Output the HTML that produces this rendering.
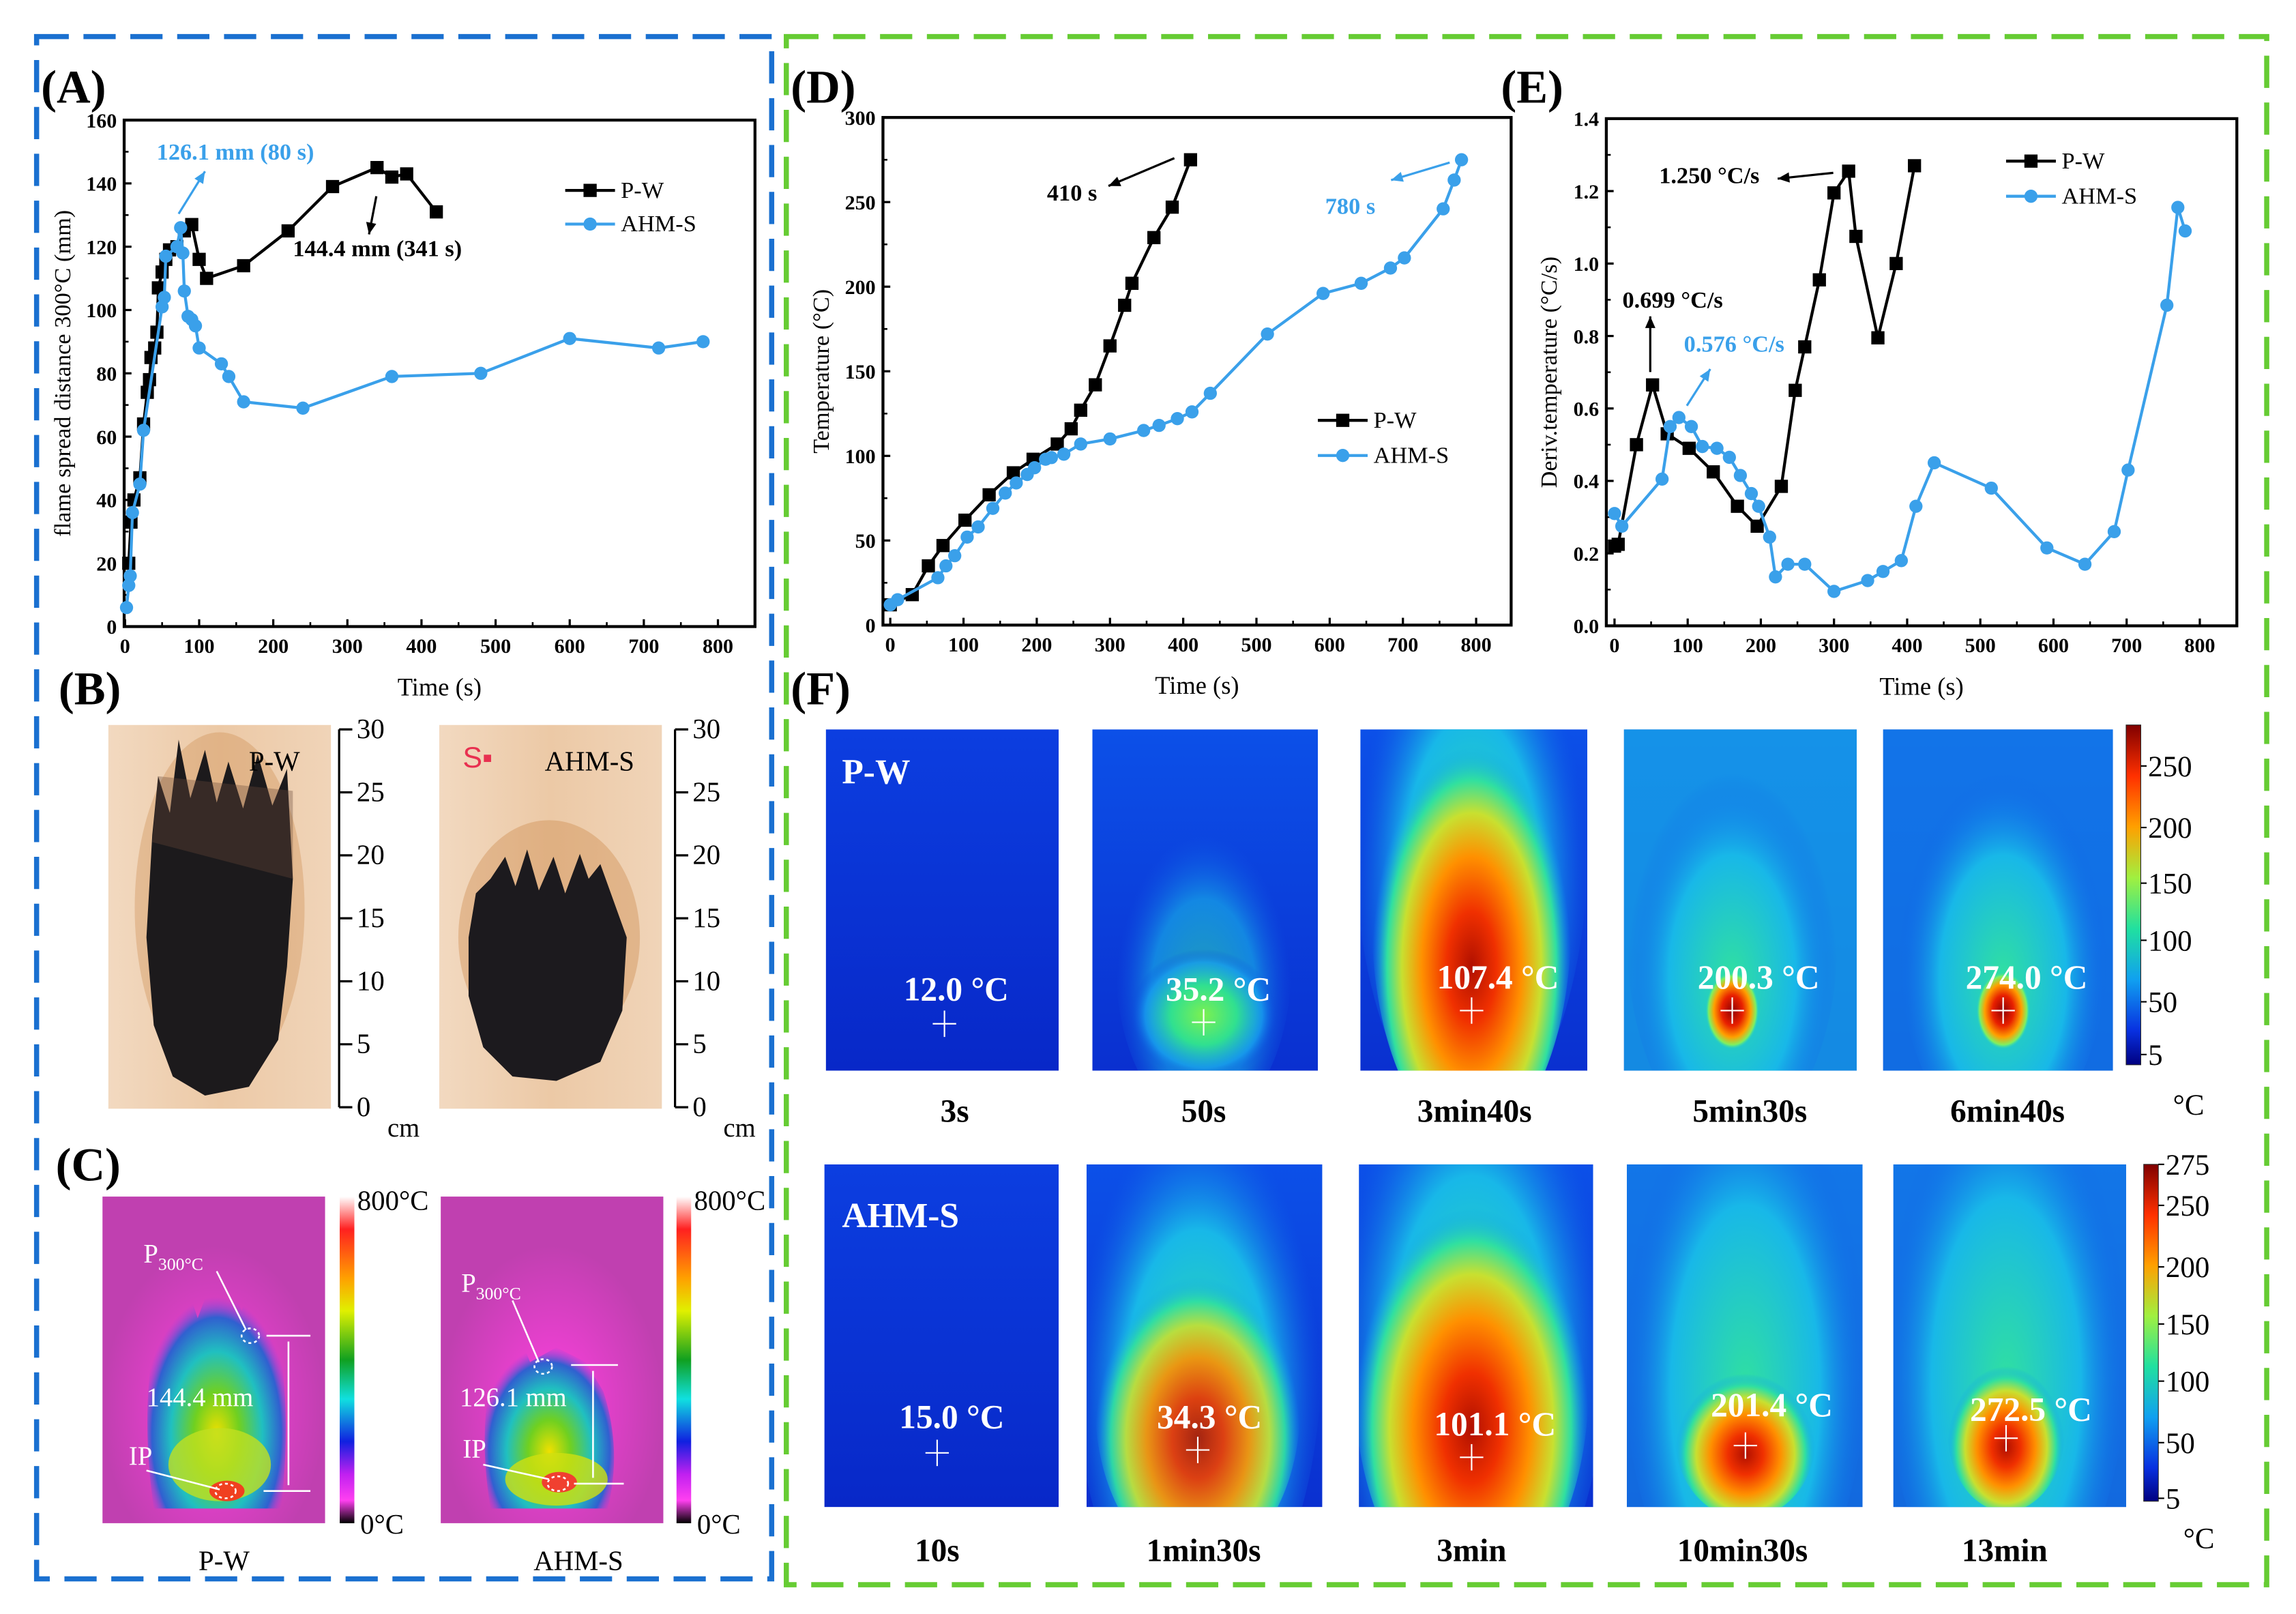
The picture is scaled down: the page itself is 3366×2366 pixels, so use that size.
<!DOCTYPE html>
<html><head><meta charset="utf-8">
<style>
html,body{margin:0;padding:0;background:#fff;}
svg{display:block;font-family:"Liberation Serif",serif;}
</style></head>
<body>
<svg id="fig" width="3366" height="2366" viewBox="0 0 1568 1102" preserveAspectRatio="none" xmlns="http://www.w3.org/2000/svg">
<defs>
 <radialGradient id="gGreen" cx="50%" cy="50%" r="50%"><stop offset="0" stop-color="#7cf050"/><stop offset="0.45" stop-color="#30e090"/><stop offset="0.8" stop-color="#18a0f0" stop-opacity="0.7"/><stop offset="1" stop-color="#0a40e0" stop-opacity="0"/></radialGradient>
 <radialGradient id="gHot" cx="50%" cy="60%" r="50%"><stop offset="0" stop-color="#b01000"/><stop offset="0.25" stop-color="#f03000"/><stop offset="0.5" stop-color="#ff9000"/><stop offset="0.7" stop-color="#c8e030"/><stop offset="0.85" stop-color="#30e0a0"/><stop offset="1" stop-color="#10a0f0" stop-opacity="0"/></radialGradient>
 <radialGradient id="gSpot" cx="50%" cy="50%" r="50%"><stop offset="0" stop-color="#900000"/><stop offset="0.4" stop-color="#e82000"/><stop offset="0.7" stop-color="#ffa000"/><stop offset="0.9" stop-color="#80f060"/><stop offset="1" stop-color="#40e0a0" stop-opacity="0"/></radialGradient>
 <radialGradient id="gCyan" cx="50%" cy="60%" r="50%"><stop offset="0" stop-color="#30e0a0"/><stop offset="0.6" stop-color="#18b8e8"/><stop offset="1" stop-color="#1060e8" stop-opacity="0"/></radialGradient>
 <linearGradient id="gBlue" x1="0" y1="0" x2="0" y2="1"><stop offset="0" stop-color="#0c3ee0"/><stop offset="1" stop-color="#0828c8"/></linearGradient>
 <linearGradient id="gBlueL" x1="0" y1="0" x2="0" y2="1"><stop offset="0" stop-color="#0c50e8"/><stop offset="1" stop-color="#0a30d0"/></linearGradient>
 <linearGradient id="cbF" x1="0" y1="0" x2="0" y2="1"><stop offset="0" stop-color="#800000"/><stop offset="0.15" stop-color="#ff3000"/><stop offset="0.3" stop-color="#ffa000"/><stop offset="0.45" stop-color="#a0f040"/><stop offset="0.6" stop-color="#20e0a0"/><stop offset="0.75" stop-color="#10a0f0"/><stop offset="0.9" stop-color="#0830e0"/><stop offset="1" stop-color="#000080"/></linearGradient>
 <linearGradient id="cbC" x1="0" y1="0" x2="0" y2="1"><stop offset="0" stop-color="#fff"/><stop offset="0.1" stop-color="#ff2020"/><stop offset="0.25" stop-color="#ffa000"/><stop offset="0.35" stop-color="#e0f000"/><stop offset="0.5" stop-color="#10a020"/><stop offset="0.62" stop-color="#10e0e0"/><stop offset="0.75" stop-color="#1020e0"/><stop offset="0.85" stop-color="#c020f0"/><stop offset="0.93" stop-color="#ff40f0"/><stop offset="1" stop-color="#000"/></linearGradient>
 <radialGradient id="gMag" cx="50%" cy="65%" r="50%"><stop offset="0" stop-color="#ff40e0"/><stop offset="1" stop-color="#c040b0"/></radialGradient>
 <radialGradient id="gFlameC" cx="50%" cy="70%" r="55%"><stop offset="0" stop-color="#f0e000"/><stop offset="0.3" stop-color="#70d020"/><stop offset="0.6" stop-color="#20c0c0"/><stop offset="0.85" stop-color="#3060d0"/><stop offset="1" stop-color="#a040e0" stop-opacity="0"/></radialGradient>
 <linearGradient id="wood" x1="0" y1="0" x2="1" y2="0"><stop offset="0" stop-color="#f2d9c0"/><stop offset="0.5" stop-color="#ecc9a6"/><stop offset="1" stop-color="#f0d4b8"/></linearGradient>
</defs>

<rect x="25" y="25" width="502" height="1053" fill="none" stroke="#1a70d0" stroke-width="3.5" stroke-dasharray="22,10"/>
<rect x="537" y="25" width="1011" height="1057" fill="none" stroke="#66cc33" stroke-width="3.5" stroke-dasharray="22,10"/>

<g font-weight="bold" font-size="32" fill="#000">
 <text x="28" y="70">(A)</text>
 <text x="40" y="481">(B)</text>
 <text x="38" y="806">(C)</text>
 <text x="540" y="70">(D)</text>
 <text x="1025" y="70">(E)</text>
 <text x="540" y="481">(F)</text>
</g>

<g id="chartA"></g>
<g id="chartD"></g>
<g id="chartE"></g>

<g>
 <rect x="74" y="495" width="152" height="262" fill="url(#wood)"/>
 <ellipse cx="150" cy="620" rx="58" ry="120" fill="#c88040" opacity="0.3"/>
 <path d="M104,570 L108,530 L116,555 L122,505 L130,545 L140,512 L148,548 L156,520 L166,552 L176,515 L186,550 L196,525 L200,600 L196,660 L190,710 L170,742 L140,748 L118,735 L105,700 L100,640 Z" fill="#1c1a1c"/>
 <path d="M104,575 L108,530 L200,540 L200,600 Z" fill="#6a4a3a" opacity="0.35"/>
 <text x="170" y="526" font-size="19">P-W</text>
 <rect x="300" y="495" width="152" height="262" fill="url(#wood)"/>
 <ellipse cx="375" cy="640" rx="62" ry="80" fill="#c88040" opacity="0.35"/>
 <path d="M320,640 L325,610 L335,600 L345,585 L352,605 L360,580 L368,608 L378,585 L386,610 L396,583 L402,600 L410,590 L428,640 L425,690 L410,725 L380,738 L350,735 L330,715 L320,680 Z" fill="#1c1a1e"/>
 <text x="316" y="524" font-size="20" fill="#e83050" font-family="Liberation Sans,sans-serif">S▪</text>
 <text x="372" y="526" font-size="19">AHM-S</text>
 <g id="scales" stroke="#000" stroke-width="1.5" fill="none"></g>
</g>

<g font-size="18" fill="#fff">
 <rect x="70" y="817" width="152" height="223" fill="url(#gMag)"/>
 <path d="M105,1030 Q95,960 108,900 L125,870 L135,900 L150,860 L165,895 L175,870 L188,900 Q200,960 192,1030 Z" fill="url(#gFlameC)"/>
 <ellipse cx="150" cy="1000" rx="35" ry="25" fill="#c0e020" opacity="0.8"/>
 <ellipse cx="155" cy="1018" rx="12" ry="7" fill="#f04020"/>
 <rect x="301" y="817" width="152" height="223" fill="url(#gMag)"/>
 <path d="M335,1030 Q325,970 340,920 L350,900 L362,930 L380,920 L400,930 L412,950 Q425,990 415,1030 Z" fill="url(#gFlameC)"/>
 <ellipse cx="380" cy="1010" rx="35" ry="18" fill="#d0e010" opacity="0.8"/>
 <ellipse cx="382" cy="1012" rx="12" ry="7" fill="#f04030"/>
 <rect x="232" y="817" width="10" height="223" fill="url(#cbC)"/>
 <rect x="462" y="817" width="10" height="223" fill="url(#cbC)"/>
 <g fill="#000" font-size="19">
  <text x="244" y="826">800°C</text><text x="246" y="1047">0°C</text>
  <text x="474" y="826">800°C</text><text x="476" y="1047">0°C</text>
  <text x="153" y="1072" text-anchor="middle">P-W</text>
  <text x="395" y="1072" text-anchor="middle">AHM-S</text>
 </g>
 <text x="98" y="862">P<tspan font-size="12" dy="5">300°C</tspan></text>
 <text x="315" y="882">P<tspan font-size="12" dy="5">300°C</tspan></text>
 <text x="100" y="960">144.4 mm</text>
 <text x="314" y="960">126.1 mm</text>
 <text x="88" y="1000">IP</text>
 <text x="316" y="995">IP</text>
 <g stroke="#fff" stroke-width="1.2" fill="none">
  <line x1="148" y1="868" x2="168" y2="908"/><ellipse cx="171" cy="912" rx="6" ry="5" stroke-dasharray="2,2"/>
  <line x1="182" y1="912" x2="212" y2="912"/><line x1="180" y1="1018" x2="212" y2="1018"/><line x1="197" y1="916" x2="197" y2="1014"/>
  <line x1="100" y1="1004" x2="150" y2="1017"/><ellipse cx="154" cy="1018" rx="7" ry="5" stroke-dasharray="2,2"/>
  <line x1="350" y1="888" x2="368" y2="930"/><ellipse cx="371" cy="933" rx="6" ry="5" stroke-dasharray="2,2"/>
  <line x1="390" y1="932" x2="422" y2="932"/><line x1="392" y1="1013" x2="426" y2="1013"/><line x1="405" y1="936" x2="405" y2="1009"/>
  <line x1="330" y1="1000" x2="375" y2="1010"/><ellipse cx="381" cy="1013" rx="7" ry="5" stroke-dasharray="2,2"/>
 </g>
</g>

<g id="panelF"></g>
</svg>

<script>
var NS="http://www.w3.org/2000/svg";
function el(tag,attrs,parent,txt){var e=document.createElementNS(NS,tag);for(var k in attrs)e.setAttribute(k,attrs[k]);if(txt!==undefined)e.textContent=txt;parent.appendChild(e);return e;}

// ---------- Chart A data ----------
var aPwX=[5,8,12,20,25,30,33,35,40,43,45,50,55,60,70,80,90,100,110,160,220,280,340,360,380,420];
var aPwY=[20,33,40,47,64,74,78,85,88,93,107,112,116,119,120,125,127,116,110,114,125,139,145,142,143,131];
var aAhX=[2,5,7,10,20,25,50,53,55,70,75,78,80,85,90,95,100,130,140,160,240,360,480,600,720,780];
var aAhY=[6,13,16,36,45,62,101,104,117,120,126,118,106,98,97,95,88,83,79,71,69,79,80,91,88,90];
var aXTicks=[0,100,200,300,400,500,600,700,800];
var aYTicks=[0,20,40,60,80,100,120,140,160];

// ---------- Chart D data ----------
var dPwX=[0,30,52,72,102,135,168,195,228,247,260,280,300,320,330,360,385,410];
var dPwY=[12,18,35,47,62,77,90,98,107,116,127,142,165,189,202,229,247,275];
var dAhX=[0,10,65,76,88,105,120,140,157,172,187,197,212,220,237,260,300,346,367,392,412,437,515,591,643,683,702,755,770,780];
var dAhY=[12,15,28,35,41,52,58,69,78,84,89,93,98,99,101,107,110,115,118,122,126,137,172,196,202,211,217,246,263,275];
var dXTicks=[0,100,200,300,400,500,600,700,800];
var dYTicks=[0,50,100,150,200,250,300];

// ---------- Chart E data ----------
var ePwX=[0,5,30,52,72,102,135,168,195,228,247,260,280,300,320,330,360,385,410];
var ePwY=[0.22,0.225,0.5,0.665,0.53,0.49,0.425,0.33,0.275,0.385,0.65,0.77,0.955,1.195,1.255,1.075,0.795,1.0,1.27];
var eAhX=[0,10,65,76,88,105,120,140,157,172,187,197,212,220,237,260,300,346,367,392,412,437,515,591,643,683,702,755,770,780];
var eAhY=[0.31,0.275,0.405,0.55,0.575,0.55,0.495,0.49,0.465,0.415,0.365,0.33,0.245,0.135,0.17,0.17,0.095,0.125,0.15,0.18,0.33,0.45,0.38,0.215,0.17,0.26,0.43,0.885,1.155,1.09];
var eXTicks=[0,100,200,300,400,500,600,700,800];
var eYTicks=[0,0.2,0.4,0.6,0.8,1.0,1.2,1.4];
var eYLabels=["0.0","0.2","0.4","0.6","0.8","1.0","1.2","1.4"];

// ---------- Panel F labels ----------
var fTopTemps=["12.0 °C","35.2 °C","107.4 °C","200.3 °C","274.0 °C"];
var fTopTimes=["3s","50s","3min40s","5min30s","6min40s"];
var fBotTemps=["15.0 °C","34.3 °C","101.1 °C","201.4 °C","272.5 °C"];
var fBotTimes=["10s","1min30s","3min","10min30s","13min"];
var fTopTicks=["250","200","150","100","50","5"];
var fBotTicks=["275","250","200","150","100","50","5"];

var BLUE="#3aa0ea";

function chart(g,c){
  var sx=function(v){return c.x0+(v-c.xmin)/(c.xmax-c.xmin)*(c.x1-c.x0);};
  var sy=function(v){return c.y0-(v-c.ymin)/(c.ymax-c.ymin)*(c.y0-c.y1);};
  var fr=el('rect',{x:c.L,y:c.T,width:c.R-c.L,height:c.B-c.T,fill:'none',stroke:'#000','stroke-width':2},g);
  
  
  c.xt.forEach(function(v){
    var X=sx(v);
    el('line',{x1:X,y1:c.B,x2:X,y2:c.B-5,stroke:'#000','stroke-width':1.5},g);
    var t=el('text',{x:X,y:c.B+18,'text-anchor':'middle','font-size':14,'font-weight':'bold'},g,String(v));
    
    
  });
  for(var i=0;i<c.xt.length-1;i++){var Xm=sx((c.xt[i]+c.xt[i+1])/2);el('line',{x1:Xm,y1:c.B,x2:Xm,y2:c.B-3,stroke:'#000','stroke-width':1.2},g);}
  c.yt.forEach(function(v,i){
    var Y=sy(v);
    el('line',{x1:c.L,y1:Y,x2:c.L+5,y2:Y,stroke:'#000','stroke-width':1.5},g);
    var t=el('text',{x:c.L-5,y:Y+5,'text-anchor':'end','font-size':14,'font-weight':'bold'},g,c.yl?c.yl[i]:String(v));
    
    
  });
  for(var j=0;j<c.yt.length-1;j++){var Ym=sy((c.yt[j]+c.yt[j+1])/2);el('line',{x1:c.L,y1:Ym,x2:c.L+3,y2:Ym,stroke:'#000','stroke-width':1.2},g);}
  var xt=el('text',{x:(c.L+c.R)/2,y:c.B+47,'text-anchor':'middle','font-size':17},g,'Time (s)');
  
  
  var yt=el('text',{x:0,y:0,'text-anchor':'middle','font-size':16,transform:'translate('+c.ytx+','+((c.T+c.B)/2)+') rotate(-90)'},g,c.ytitle);
  
  
  c.series.forEach(function(s){
    var pts=s.x.map(function(v,k){return sx(v)+','+sy(s.y[k]);}).join(' ');
    var pl=el('polyline',{points:pts,fill:'none',stroke:s.col,'stroke-width':2},g);
    
    
    s.x.forEach(function(v,k){
      var m;
      if(s.sq){m=el('rect',{x:sx(v)-4.5,y:sy(s.y[k])-4.5,width:9,height:9,fill:s.col},g);}
      else{m=el('circle',{cx:sx(v),cy:sy(s.y[k]),r:4.5,fill:s.col},g);}
      
      
    });
  });
  c.series.forEach(function(s,k){
    var ly=c.legY+k*c.legDy;
    el('line',{x1:c.legX,y1:ly,x2:c.legX+34,y2:ly,stroke:s.col,'stroke-width':2},g);
    if(s.sq)el('rect',{x:c.legX+12.5,y:ly-4.5,width:9,height:9,fill:s.col},g);else el('circle',{cx:c.legX+17,cy:ly,r:4.5,fill:s.col},g);
    var lt=el('text',{x:c.legX+38,y:ly+5,'font-size':16},g,s.label);
    
    
  });
  (c.ann||[]).forEach(function(a){
    var t=el('text',{x:a.tx,y:a.ty,'font-size':16,'font-weight':'bold',fill:a.col},g,a.t);
    
    
    el('line',{x1:a.x1,y1:a.y1,x2:a.x2,y2:a.y2,stroke:a.col,'stroke-width':1.5},g);
    var ang=Math.atan2(a.y2-a.y1,a.x2-a.x1),L=8,W=3.5;
    var bx=a.x2-L*Math.cos(ang),by=a.y2-L*Math.sin(ang);
    el('polygon',{points:a.x2+','+a.y2+' '+(bx-W*Math.sin(ang))+','+(by+W*Math.cos(ang))+' '+(bx+W*Math.sin(ang))+','+(by-W*Math.cos(ang)),fill:a.col},g);
  });
}

chart(document.getElementById('chartA'),{L:84.8,R:515.6,T:82,B:427.8,x0:85.4,x1:490.3,xmin:0,xmax:800,y0:427.8,y1:82,ymin:0,ymax:160,
  xt:aXTicks,yt:aYTicks,ytitle:'flame spread distance 300°C (mm)',ytx:48,legX:386,legY:130,legDy:23,
  series:[{name:'pw',label:'P-W',x:aPwX,y:aPwY,col:'#000',sq:true},{name:'ahms',label:'AHM-S',x:aAhX,y:aAhY,col:BLUE,sq:false}],
  ann:[{t:'126.1 mm (80 s)',tx:107,ty:109,col:BLUE,x1:122,y1:146,x2:140,y2:117},{t:'144.4 mm (341 s)',tx:200,ty:175,col:'#000',x1:257,y1:134,x2:252,y2:160}]});

chart(document.getElementById('chartD'),{L:603,R:1032,T:80.2,B:426.8,x0:608,x1:1008.1,xmin:0,xmax:800,y0:426.8,y1:80.2,ymin:0,ymax:300,
  xt:dXTicks,yt:dYTicks,ytitle:'Temperature (°C)',ytx:566,legX:900,legY:287,legDy:24,
  series:[{name:'pw',label:'P-W',x:dPwX,y:dPwY,col:'#000',sq:true},{name:'ahms',label:'AHM-S',x:dAhX,y:dAhY,col:BLUE,sq:false}],
  ann:[{t:'410 s',tx:715,ty:137,col:'#000',x1:802,y1:108,x2:757,y2:127},{t:'780 s',tx:905,ty:146,col:BLUE,x1:990,y1:111,x2:950,y2:123}]});

chart(document.getElementById('chartE'),{L:1097,R:1527.6,T:81,B:427.3,x0:1102.6,x1:1502.3,xmin:0,xmax:800,y0:427.3,y1:81,ymin:0,ymax:1.4,
  xt:eXTicks,yt:eYTicks,yl:eYLabels,ytitle:'Deriv.temperature (°C/s)',ytx:1063,legX:1370,legY:110,legDy:24,
  series:[{name:'pw',label:'P-W',x:ePwX,y:ePwY,col:'#000',sq:true},{name:'ahms',label:'AHM-S',x:eAhX,y:eAhY,col:BLUE,sq:false}],
  ann:[{t:'1.250 °C/s',tx:1133,ty:125,col:'#000',x1:1252,y1:118,x2:1214,y2:122},{t:'0.699 °C/s',tx:1108,ty:210,col:'#000',x1:1127,y1:254,x2:1127,y2:216},{t:'0.576 °C/s',tx:1150,ty:240,col:BLUE,x1:1152,y1:277,x2:1168,y2:252}]});

(function(){
  var g=document.getElementById('scales');
  [231.6,461].forEach(function(ax){
    el('line',{x1:ax,y1:498,x2:ax,y2:756},g);
    for(var v=0;v<=30;v+=5){
      var Y=756-v/30*258;
      el('line',{x1:ax,y1:Y,x2:ax+9,y2:Y},g);
      var t=el('text',{x:ax+12,y:Y+6,'font-size':19,fill:'#000',stroke:'none'},g,String(v));
      
      
    }
    el('text',{x:ax+33,y:776,'font-size':18,fill:'#000',stroke:'none'},g,'cm');
  });
})();

(function(){
  var g=document.getElementById('panelF');
  var top=[[564,723],[746,900],[929,1084],[1109,1268],[1286,1443]];
  var bot=[[563,723],[742,903],[928,1088],[1111,1272],[1293,1452]];
  var topC=[[645,699],[822,698],[1005,690],[1183,690],[1368,690]];
  var botC=[[640,992],[818,990],[1005,995],[1192,987],[1370,982]];
  var topT=[[653,683],[832,683],[1023,675],[1201,675],[1384,675]];
  var botT=[[650,975],[826,975],[1021,980],[1210,967],[1387,970]];
  function panel(r,y0,y1,k,C,kind){
    var x0=r[0],w=r[1]-r[0],h=y1-y0,cx=C[0],cy=C[1];
    var cp='cp'+kind+k;
    var clip=el('clipPath',{id:cp},g);el('rect',{x:x0,y:y0,width:w,height:h},clip);
    var gg=el('g',{'clip-path':'url(#'+cp+')'},g);
    var base=el('rect',{x:x0,y:y0,width:w,height:h,fill:k===0?'url(#gBlue)':'url(#gBlueL)'},gg);
    
    
    if(k===0){}
    else if(kind==='t'&&k===1){el('ellipse',{cx:cx,cy:cy-40,rx:60,ry:110,fill:'url(#gCyan)',opacity:0.6},gg);el('ellipse',{cx:cx,cy:cy-5,rx:50,ry:45,fill:'url(#gGreen)'},gg);}
    else if(kind==='t'&&k===2){el('ellipse',{cx:cx,cy:cy-120,rx:80,ry:200,fill:'url(#gCyan)'},gg);el('ellipse',{cx:cx,cy:cy-60,rx:68,ry:150,fill:'url(#gHot)'},gg);}
    else if(kind==='t'&&(k===3||k===4)){el('rect',{x:x0,y:y0,width:w,height:h,fill:k===3?'#18a8e8':'#1480e8',opacity:0.75},gg);el('ellipse',{cx:cx,cy:cy-50,rx:72,ry:140,fill:'url(#gCyan)'},gg);el('ellipse',{cx:cx,cy:cy,rx:18,ry:26,fill:'url(#gSpot)'},gg);}
    else if(kind==='b'&&k===1){el('ellipse',{cx:cx,cy:cy-70,rx:85,ry:200,fill:'url(#gCyan)'},gg);el('ellipse',{cx:cx,cy:cy-30,rx:70,ry:110,fill:'url(#gHot)',opacity:0.9},gg);}
    else if(kind==='b'&&k===2){el('ellipse',{cx:cx,cy:cy-100,rx:95,ry:230,fill:'url(#gCyan)'},gg);el('ellipse',{cx:cx,cy:cy-50,rx:80,ry:150,fill:'url(#gHot)'},gg);}
    else if(kind==='b'&&k>=3){el('rect',{x:x0,y:y0,width:w,height:h,fill:'#1890e8',opacity:0.6},gg);el('ellipse',{cx:cx,cy:cy-80,rx:85,ry:210,fill:'url(#gCyan)'},gg);el('ellipse',{cx:cx,cy:cy-5,rx:k===3?48:40,ry:55,fill:'url(#gHot)'},gg);}
    el('line',{x1:cx-8,y1:cy,x2:cx+8,y2:cy,stroke:'#fff','stroke-width':1},g);
    el('line',{x1:cx,y1:cy-9,x2:cx,y2:cy+9,stroke:'#fff','stroke-width':1},g);
  }
  top.forEach(function(r,k){panel(r,498,731,k,topC[k],'t');});
  bot.forEach(function(r,k){panel(r,795,1029,k,botC[k],'b');});
  fTopTemps.forEach(function(s,k){var t=el('text',{x:topT[k][0],y:topT[k][1],'text-anchor':'middle','font-size':23,'font-weight':'bold',fill:'#fff'},g,s);});
  fBotTemps.forEach(function(s,k){var t=el('text',{x:botT[k][0],y:botT[k][1],'text-anchor':'middle','font-size':23,'font-weight':'bold',fill:'#fff'},g,s);});
  var tx=[652,822,1007,1195,1371],bx=[640,822,1005,1190,1369];
  fTopTimes.forEach(function(s,k){var t=el('text',{x:tx[k],y:766,'text-anchor':'middle','font-size':22,'font-weight':'bold'},g,s);});
  fBotTimes.forEach(function(s,k){var t=el('text',{x:bx[k],y:1066,'text-anchor':'middle','font-size':22,'font-weight':'bold'},g,s);});
  var l1=el('text',{x:575,y:535,'font-size':24,'font-weight':'bold',fill:'#fff'},g,'P-W');
  
  
  var l2=el('text',{x:575,y:838,'font-size':24,'font-weight':'bold',fill:'#fff'},g,'AHM-S');
  
  
  var cb1=el('rect',{x:1452,y:495,width:10,height:232,fill:'url(#cbF)',stroke:'#222','stroke-width':0.5},g);
  
  
  var cb2=el('rect',{x:1464,y:795,width:10,height:230,fill:'url(#cbF)',stroke:'#222','stroke-width':0.5},g);
  
  
  var ty1=[524,566,604,643,685,721];
  fTopTicks.forEach(function(s,k){el('line',{x1:1462,y1:ty1[k]-1,x2:1466,y2:ty1[k]-1,stroke:'#000'},g);el('text',{x:1467,y:ty1[k]+6,'font-size':20},g,s);});
  var ty2=[796,824,866,905,944,986,1024];
  fBotTicks.forEach(function(s,k){el('line',{x1:1474,y1:ty2[k]-1,x2:1478,y2:ty2[k]-1,stroke:'#000'},g);el('text',{x:1479,y:ty2[k]+6,'font-size':20},g,s);});
  el('text',{x:1484,y:761,'font-size':20},g,'°C');
  el('text',{x:1491,y:1057,'font-size':20},g,'°C');
})();
</script>
</body></html>
